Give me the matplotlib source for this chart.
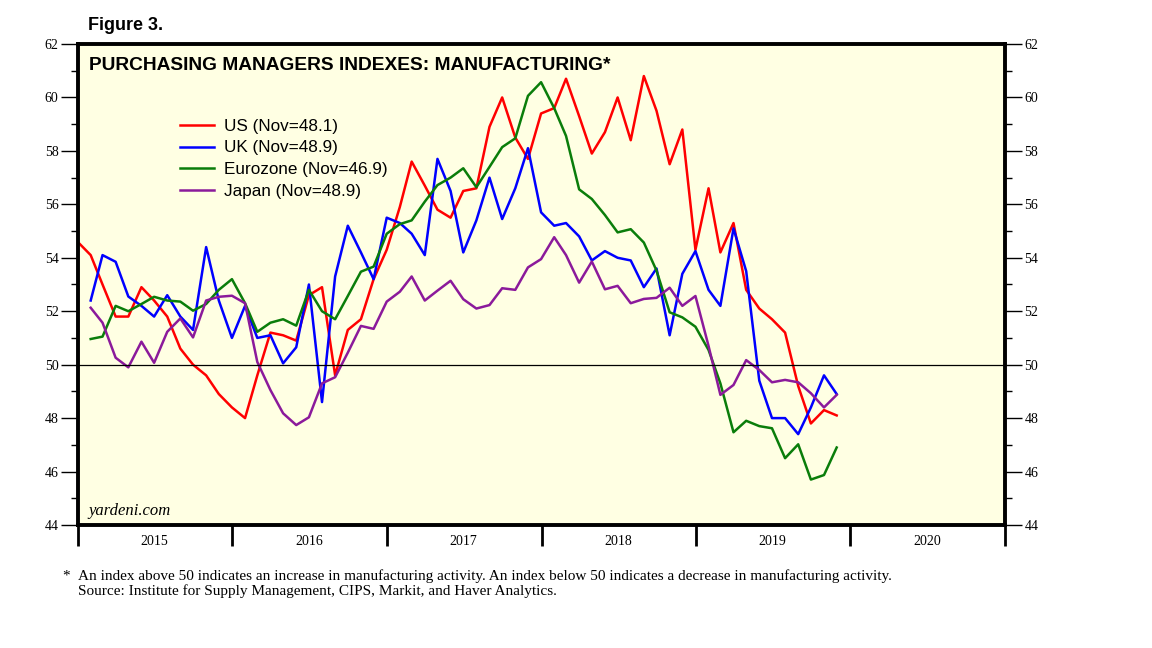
import matplotlib
matplotlib.use('Agg')
import matplotlib.pyplot as plt
import matplotlib.dates as mdates
import numpy as np
import pandas as pd

# индексы PMI (обработка), месячные значения, читаются с картинки
us = [54.6, 54.1, 53.0, 51.8, 51.8, 52.9, 52.4, 51.8, 50.6, 50.0, 49.6, 48.9, 48.4,
      48.0, 49.6, 51.2, 51.1, 50.9, 52.6, 52.9, 49.6, 51.3, 51.7, 53.2, 54.3,
      55.9, 57.6, 56.7, 55.8, 55.5, 56.5, 56.6, 58.9, 60.0, 58.5, 57.7, 59.4,
      59.6, 60.7, 59.3, 57.9, 58.7, 60.0, 58.4, 60.8, 59.5, 57.5, 58.8, 54.3,
      56.6, 54.2, 55.3, 52.8, 52.1, 51.7, 51.2, 49.2, 47.8, 48.3, 48.1]
uk = [52.4, 54.1, 53.85, 52.55, 52.2, 51.8, 52.6, 51.8, 51.3, 54.4, 52.4, 51.0,
      52.2, 51.0, 51.1, 50.05, 50.65, 53.0, 48.6, 53.3, 55.2, 54.2, 53.2, 55.5,
      55.3, 54.9, 54.1, 57.7, 56.5, 54.2, 55.4, 57.0, 55.45, 56.6, 58.1, 55.7,
      55.2, 55.3, 54.8, 53.9, 54.25, 54.0, 53.9, 52.9, 53.6, 51.1, 53.4, 54.25,
      52.8, 52.2, 55.1, 53.5, 49.4, 48.0, 48.0, 47.4, 48.4, 49.6, 48.9]
ez = [50.96, 51.05, 52.2, 52.0, 52.27, 52.54, 52.4, 52.36, 52.02, 52.27, 52.8, 53.2,
      52.3, 51.23, 51.57, 51.7, 51.46, 52.8, 52.0, 51.7, 52.57, 53.48, 53.67, 54.9,
      55.26, 55.4, 56.1, 56.72, 57.0, 57.35, 56.64, 57.4, 58.14, 58.47, 60.06, 60.57,
      59.6, 58.56, 56.56, 56.2, 55.6, 54.95, 55.07, 54.57, 53.52, 51.96, 51.77, 51.42,
      50.55, 49.3, 47.47, 47.9, 47.7, 47.62, 46.5, 47.02, 45.7, 45.87, 46.9]
jp = [52.13, 51.57, 50.26, 49.9, 50.86, 50.07, 51.23, 51.73, 51.02, 52.4, 52.54, 52.58,
      52.3, 50.1, 49.05, 48.18, 47.74, 48.03, 49.3, 49.53, 50.45, 51.45, 51.34, 52.36,
      52.73, 53.3, 52.4, 52.77, 53.14, 52.45, 52.1, 52.23, 52.86, 52.8, 53.64, 53.95,
      54.77, 54.1, 53.07, 53.86, 52.82, 52.95, 52.3, 52.46, 52.5, 52.88, 52.2, 52.57,
      50.7, 48.87, 49.24, 50.17, 49.8, 49.34, 49.43, 49.34, 48.93, 48.4, 48.87]

# даты - конец месяца
d_us = pd.date_range('2014-12-31', periods=len(us), freq='ME')
d_other = pd.date_range('2015-01-31', periods=len(uk), freq='ME')

years = list(range(2015, 2022))
labels = ['US (Nov=48.1)', 'UK (Nov=48.9)', 'Eurozone (Nov=46.9)', 'Japan (Nov=48.9)']
colors = ['#ff0000', '#0000ff', '#0a7d0a', '#8b1a9b']

fig = plt.figure(figsize=(11.52, 6.48), dpi=100)
ax = fig.add_axes([78/1152, 1-525/648, (1005-78)/1152, (525-44)/648])
ax.set_facecolor('#ffffe3')

ax.plot(d_us, us, color=colors[0], lw=1.8, label=labels[0])
ax.plot(d_other, uk, color=colors[1], lw=1.8, label=labels[1])
ax.plot(d_other, ez, color=colors[2], lw=1.8, label=labels[2])
ax.plot(d_other, jp, color=colors[3], lw=1.8, label=labels[3])

# линия 50
ax.axhline(50, color='black', lw=0.9)

ax.set_ylim(44, 62)
ax.set_xlim(pd.Timestamp('2015-01-01'), pd.Timestamp('2021-01-01'))

# ось y с обеих сторон
ax.set_yticks(np.arange(44, 63, 2))
ax.set_yticks(np.arange(45, 62, 2), minor=True)
ax.tick_params(axis='y', which='major', direction='out', length=12, width=1,
               left=True, right=True, labelleft=True, labelright=True,
               labelsize=10, pad=2)
ax.tick_params(axis='y', which='minor', direction='out', length=5, width=1,
               left=True, right=True)

# ось x: большие риски на границах лет, подписи в середине года
ax.set_xticks([pd.Timestamp(f'{y}-01-01') for y in years])
ax.set_xticks([pd.Timestamp(f'{y}-07-01') for y in years[:-1]], minor=True)
ax.set_xticklabels([])
ax.set_xticklabels([str(y) for y in years[:-1]], minor=True)
ax.tick_params(axis='x', which='major', direction='out', length=15, width=2)
ax.tick_params(axis='x', which='minor', length=0, labelsize=10, pad=7)

for lab in ax.get_xticklabels(minor=True) + ax.get_yticklabels():
    lab.set_family('Liberation Serif')
for s in ax.spines.values():
    s.set_linewidth(2.8)

# заголовки
fig.text(88/1152, 1-25/648, 'Figure 3.', fontsize=13, fontweight='bold',
         family='Liberation Sans', va='center')
ax.text(0.012, 0.973, 'PURCHASING MANAGERS INDEXES: MANUFACTURING*',
        transform=ax.transAxes, fontsize=13.75, fontweight='bold',
        family='Liberation Sans', va='top')
ax.text(0.011, 0.013, 'yardeni.com', transform=ax.transAxes, fontsize=12,
        style='italic', family='Liberation Serif', va='bottom')

# легенда
ax.legend(loc='upper left', bbox_to_anchor=(0.1025, 0.859), frameon=False,
          prop={'family': 'Liberation Sans', 'size': 12.3}, handlelength=2.0,
          handletextpad=0.6, labelspacing=0.4, borderaxespad=0)

# примечание
fig.text(62/1152, 1-576/648, '*', fontsize=11, family='Liberation Serif', va='center')
fig.text(78/1152, 1-576/648,
         'An index above 50 indicates an increase in manufacturing activity. '
         'An index below 50 indicates a decrease in manufacturing activity.',
         fontsize=11, family='Liberation Serif', va='center')
fig.text(78/1152, 1-591/648,
         'Source: Institute for Supply Management, CIPS, Markit, and Haver Analytics.',
         fontsize=11, family='Liberation Serif', va='center')

fig.savefig('out.png', dpi=100)
